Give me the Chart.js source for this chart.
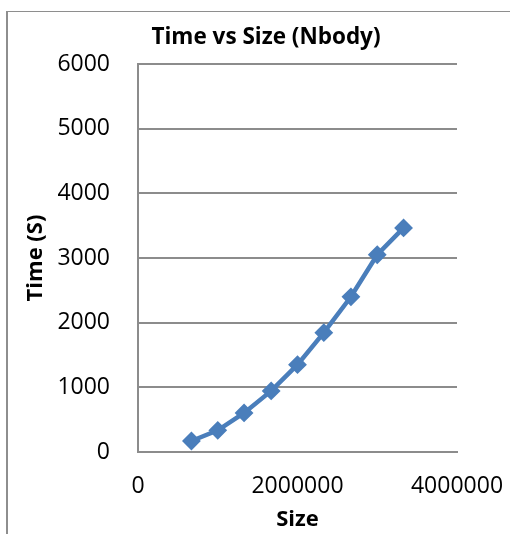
<!DOCTYPE html>
<html>
<head>
<meta charset="utf-8">
<script src="https://cdn.jsdelivr.net/npm/chart.js@4"></script>
<style>
  html, body { margin: 0; padding: 0; background: #fff; overflow: hidden; }
  #wrap { position: relative; width: 510px; height: 534px; }
  #frame {
    position: absolute; left: 6px; top: 11px; width: 600px; height: 600px;
    border-left: 2px solid #8e8e8e; border-top: 1px solid #8e8e8e;
  }
  #chart { position: absolute; left: 0; top: 0; }
</style>
</head>
<body>
<div id="wrap">
  <div id="frame"></div>
  <canvas id="chart" width="510" height="534"></canvas>
</div>
<script>
// Nbody run time against problem size
const sizes = [670000, 1000000, 1330000, 1670000, 2000000, 2330000, 2670000, 3000000, 3330000];
const times = [170, 335, 605, 945, 1350, 1845, 2400, 3050, 3465];

const xTicks = [0, 2000000, 4000000];
const yTicks = [0, 1000, 2000, 3000, 4000, 5000, 6000];

const FONT = "'Open Sans', 'DejaVu Sans', sans-serif";
const GRID = '#8c8c8c';
const BLUE = '#4a7ebb';

const points = sizes.map((x, i) => ({ x: x, y: times[i] }));

new Chart(document.getElementById('chart').getContext('2d'), {
  type: 'scatter',
  data: {
    datasets: [{
      data: points,
      showLine: true,
      borderColor: BLUE,
      backgroundColor: BLUE,
      borderWidth: 4.5,
      tension: 0,
      pointStyle: 'rectRot',
      pointRadius: 8,
      pointBorderWidth: 2,
      pointBorderColor: BLUE,
      pointBackgroundColor: BLUE
    }]
  },
  options: {
    responsive: false,
    animation: false,
    // left padding keeps the title centred on the full frame
    layout: { padding: { top: 0, right: 0, bottom: 0, left: 22 } },
    plugins: {
      legend: { display: false },
      tooltip: { enabled: false },
      title: {
        display: true,
        text: 'Time vs Size (Nbody)',
        color: '#000',
        font: { family: FONT, size: 22.5, weight: 'bold', lineHeight: 1.2 },
        padding: { top: 24, bottom: 13 }
      }
    },
    scales: {
      x: {
        type: 'linear',
        min: xTicks[0],
        max: xTicks[xTicks.length - 1],
        afterBuildTicks: s => { s.ticks = xTicks.map(v => ({ value: v })); },
        afterFit: s => {
          s.height = 82;
          s.paddingLeft = 0;
          s.paddingRight = 53;
        },
        grid: { drawOnChartArea: false, drawTicks: false },
        border: { display: true, color: GRID, width: 2 },
        ticks: {
          color: '#000',
          padding: 21,
          maxRotation: 0,
          font: { family: FONT, size: 23, lineHeight: 1.2 },
          callback: v => String(v)
        },
        title: {
          display: true,
          text: 'Size',
          color: '#000',
          font: { family: FONT, size: 22, weight: 'bold', lineHeight: 1.2 },
          padding: { top: 0, bottom: 1 }
        }
      },
      y: {
        min: yTicks[0],
        max: yTicks[yTicks.length - 1],
        afterBuildTicks: s => { s.ticks = yTicks.map(v => ({ value: v })); },
        afterFit: s => { s.width = 116; },
        grid: { color: GRID, lineWidth: 2, drawTicks: false },
        border: { display: true, color: GRID, width: 2 },
        ticks: {
          color: '#000',
          padding: 28,
          font: { family: FONT, size: 23, lineHeight: 1.2 },
          callback: v => String(v)
        },
        title: {
          display: true,
          text: 'Time (S)',
          color: '#000',
          font: { family: FONT, size: 22, weight: 'bold', lineHeight: 1.2 },
          padding: { top: 1, bottom: 0 }
        }
      }
    }
  }
});
</script>
</body>
</html>
